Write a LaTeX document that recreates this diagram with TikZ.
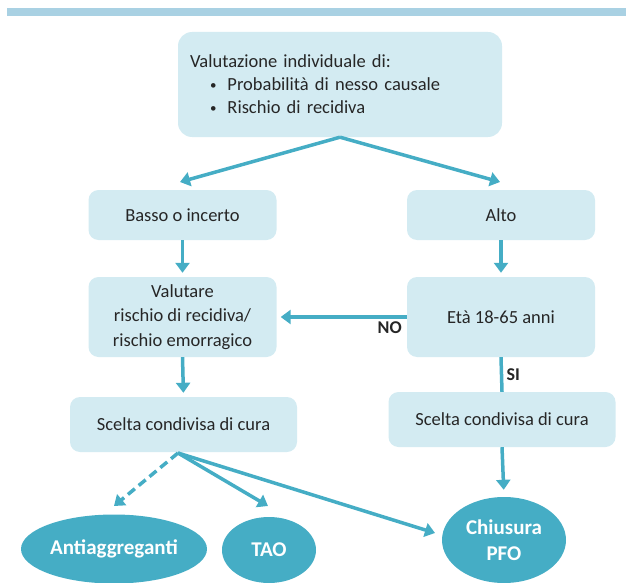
\documentclass[tikz,border=0pt]{standalone}
\usepackage{fontspec}
\setmainfont{Carlito}
\usetikzlibrary{
  shapes.geometric,
  arrows.meta,
  positioning,
}
\definecolor{boxfill}{HTML}{D3EBF2}
\definecolor{flowteal}{HTML}{45ADC5}
\definecolor{barblue}{HTML}{A9D1E3}
\definecolor{textgray}{HTML}{262626}
\newcommand{\smallbul}{\hspace*{20pt}\raisebox{1.5pt}{\fontsize{13}{13}\selectfont\textbullet}\hspace{11pt}}
\tikzset{
  stepbox/.style={
    rectangle,
    rounded corners=10pt,
    minimum width=188pt,
    minimum height=50pt,
    text centered,
    align=center,
    fill=boxfill,
    text=textgray,
    font=\fontsize{18.5}{24.5}\selectfont
  },
  topbox/.style={
    rectangle,
    rounded corners=14pt,
    minimum width=324pt,
    minimum height=105pt,
    text width=300pt,
    inner xsep=12pt,
    align=left,
    fill=boxfill,
    text=textgray,
    font=\fontsize{18.5}{23}\selectfont
  },
  outcome/.style={
    ellipse,
    inner sep=0pt,
    fill=flowteal,
    text=white,
    align=center,
    font=\bfseries\fontsize{21}{26}\selectfont
  },
  flow/.style={
    draw=flowteal,
    line width=3.5pt,
    -{Triangle[length=10pt,width=14pt]},
  },
  answer/.style={
    text=textgray,
    font=\bfseries\fontsize{18}{19}\selectfont
  },
}
\begin{document}
\begin{tikzpicture}[x=1pt, y=-1pt]
  \useasboundingbox (0,0) rectangle (626,583);

  % Top rule
  \fill[barblue] (7,8) rectangle (626,16);

  % Boxes
  \node (valut) [topbox] at (340,84.5) {Valutazione individuale di:\\
    \smallbul Probabilità di nesso causale\\
    \smallbul Rischio di recidiva};
  \node (basso) [stepbox] at (182.5,215) {Basso o incerto};
  \node (alto) [stepbox] at (501,215) {Alto};
  \node (rischio) [stepbox, minimum height=80pt] at (182.5,317)
    {Valutare\\rischio di recidiva/\\rischio emorragico};
  \node (eta) [stepbox, minimum height=80pt] at (501,317) {Età 18-65 anni};
  \node (sceltaL) [stepbox, minimum width=227pt, minimum height=55pt] at (183.5,424.5)
    {Scelta condivisa di cura};
  \node (sceltaR) [stepbox, minimum width=227pt, minimum height=55pt] at (502,419.5)
    {Scelta condivisa di cura};

  % Outcomes
  \node (anti) [outcome, minimum width=186pt, minimum height=69pt] at (114,549) {Antiaggreganti};
  \node (tao) [outcome, minimum width=94pt, minimum height=66pt] at (269,550) {TAO};
  \node (pfo) [outcome, minimum width=124pt, minimum height=86pt] at (504,540) {Chiusura\\PFO};

  % Arrow ends
  \coordinate (bassoTip) at (180,182);
  \coordinate (altoTip) at (500,182);
  \coordinate (fork) at (178,453);
  \coordinate (antiTip) at (114,506);
  \coordinate (taoTip) at (268,506);
  \coordinate (pfoTip) at (435,533);

  % Arrows
  \draw [flow] (valut.south) -- (bassoTip);
  \draw [flow] (valut.south) -- (altoTip);
  \draw [flow, shorten >=4pt] (basso.south) -- (rischio.north);
  \draw [flow, shorten >=4pt] (alto.south) -- (eta.north);
  \draw [flow, shorten >=4pt] (eta.west) -- (rischio.east)
    node[at start, anchor=north east, answer] {NO};
  \draw [draw=flowteal, line width=3.5pt] (eta.south) -- (sceltaR.north)
    node[midway, right, answer] {SI};
  \draw [flow, shorten >=4pt] (rischio.south) -- (sceltaL.north);
  \draw [flow, shorten >=7pt] (sceltaR.south) -- (pfo.north);

  \draw [flow, dash pattern=on 9pt off 5pt] (fork) -- (antiTip);
  \draw [flow] (fork) -- (taoTip);
  \draw [flow] (fork) -- (pfoTip);

\end{tikzpicture}
\end{document}
